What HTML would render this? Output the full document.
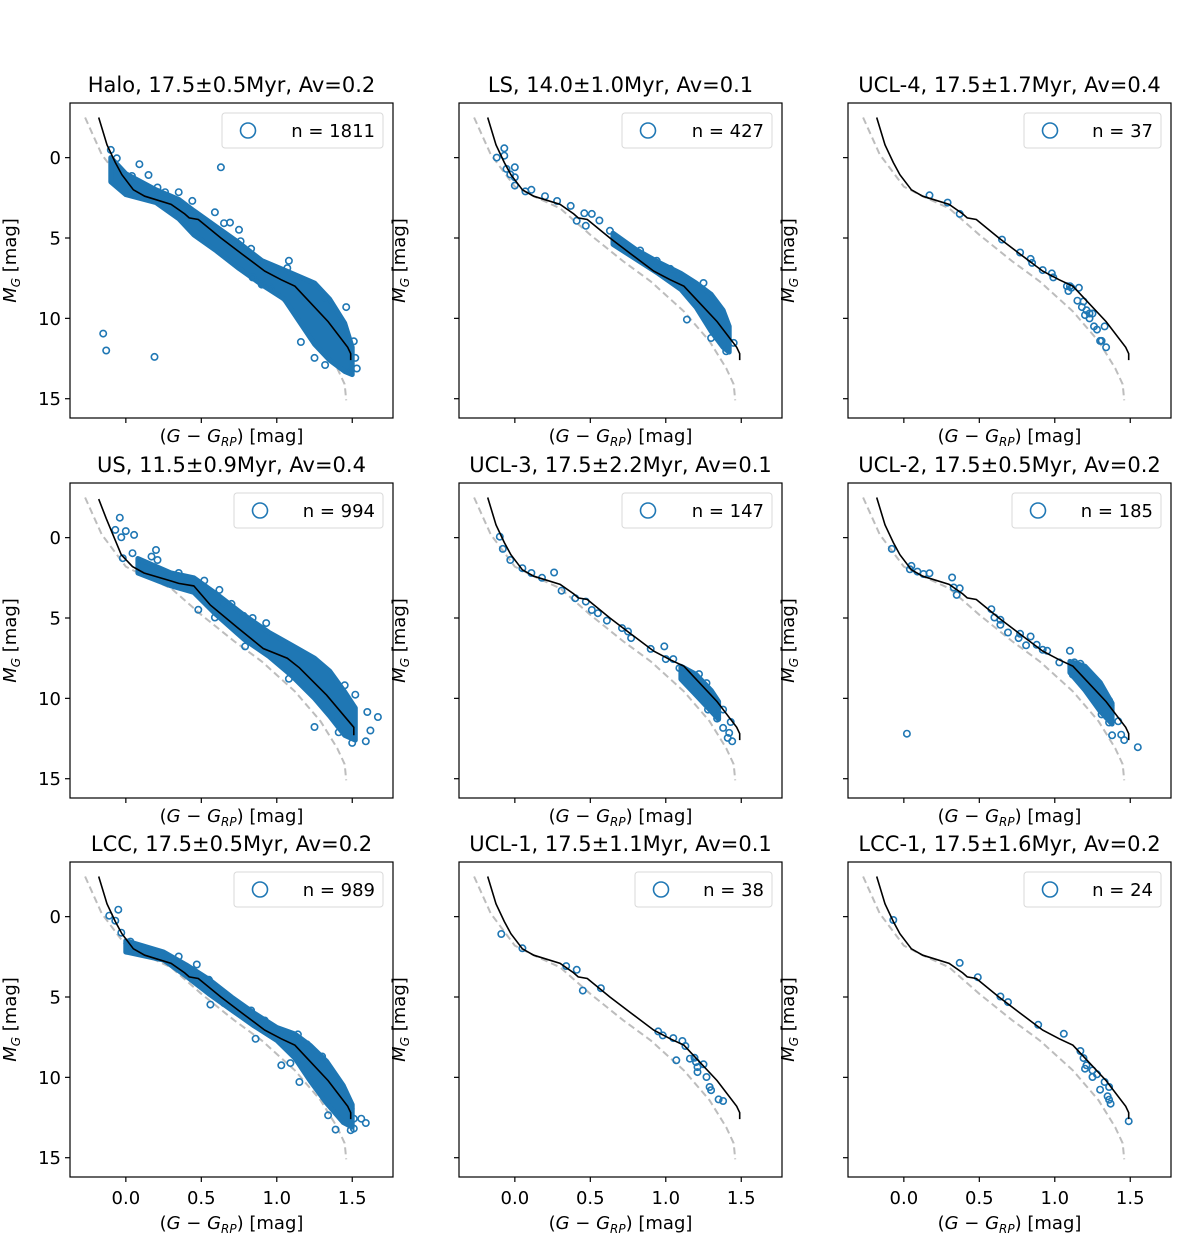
<!DOCTYPE html>
<html><head><meta charset="utf-8"><style>
body{margin:0;background:#fff}
svg{display:block;font-family:"DejaVu Sans","Liberation Sans",sans-serif}
</style></head><body>
<svg id="fig" width="1200" height="1239" viewBox="0 0 1200 1239" xmlns="http://www.w3.org/2000/svg"></svg>
<script>
// ---- data ----
const xTicks = [0, 0.5, 1.0, 1.5];
const xTickLabels = ["0.0", "0.5", "1.0", "1.5"];
const yTicks = [0, 5, 10, 15];
const yTickLabels = ["0", "5", "10", "15"];
const titles = ["Halo, 17.5\u00b10.5Myr, Av=0.2","LS, 14.0\u00b11.0Myr, Av=0.1","UCL-4, 17.5\u00b11.7Myr, Av=0.4",
 "US, 11.5\u00b10.9Myr, Av=0.4","UCL-3, 17.5\u00b12.2Myr, Av=0.1","UCL-2, 17.5\u00b10.5Myr, Av=0.2",
 "LCC, 17.5\u00b10.5Myr, Av=0.2","UCL-1, 17.5\u00b11.1Myr, Av=0.1","LCC-1, 17.5\u00b11.6Myr, Av=0.2"];
const counts = [1811, 427, 37, 994, 147, 185, 989, 38, 24];
const refX = [-0.27,-0.16,0.0,0.125,0.30,0.50,0.72,0.90,1.12,1.29,1.40,1.45,1.46];
const refY = [-2.5,-0.2,1.8,2.4,3.15,4.8,6.46,7.7,9.57,11.43,13.1,14.1,15.1];
const isoX = [-0.18,-0.125,-0.07,-0.026,0.05,0.125,0.30,0.39,0.42,0.48,0.63,0.77,0.92,1.03,1.12,1.21,1.34,1.47,1.49,1.49];
const isoY = [-2.5,-0.8,0.3,1.06,2.0,2.4,2.9,3.5,3.75,3.85,5.0,6.0,7.06,7.6,8.0,8.9,10.2,11.8,12.2,12.6];
const isoUSX = [-0.18,-0.13,-0.03,0.044,0.12,0.30,0.35,0.45,0.56,0.74,0.91,1.07,1.15,1.33,1.51,1.51];
const isoUSY = [-2.4,-1.2,1.07,1.8,2.2,2.7,2.85,3.0,4.2,5.6,6.9,7.5,8.1,9.8,11.8,12.3];
// dense-region bands: [colour, upper mag, lower mag]
const bandHalo = [[-0.1,0,1.5],[0.0,1.0,2.3],[0.2,2.0,2.8],[0.35,2.6,3.8],[0.45,3.3,4.8],[0.6,4.3,5.8],[0.75,5.3,6.9],[0.9,6.4,7.9],[1.05,7.0,8.8],[1.15,7.4,10.2],[1.25,7.8,11.6],[1.35,8.8,12.6],[1.45,10.3,13.3],[1.5,11.8,13.5]];
const bandLS = [[0.65,4.7,5.4],[0.8,5.7,6.3],[0.95,6.5,7.2],[1.1,7.2,8.2],[1.2,7.8,9.3],[1.3,8.5,10.8],[1.38,9.5,11.8],[1.42,10.5,12.1]];
const bandUS = [[0.08,1.3,2.2],[0.3,2.2,3.0],[0.45,2.5,3.4],[0.6,3.5,4.8],[0.78,4.8,6.3],[0.95,5.9,7.4],[1.1,6.7,8.6],[1.25,7.5,10.0],[1.35,8.3,11.1],[1.45,9.6,12.3],[1.52,10.6,12.6]];
const bandUCL3 = [[1.1,8.0,8.8],[1.2,8.5,9.8],[1.3,9.5,10.8],[1.35,10.2,11.3]];
const bandUCL2 = [[1.1,7.7,8.4],[1.2,8.0,9.5],[1.3,9.0,10.8],[1.38,10.3,11.6]];
const bandLCC = [[0.0,1.5,2.2],[0.25,2.2,2.7],[0.4,3.0,3.7],[0.55,3.9,4.8],[0.7,5.0,5.8],[0.85,6.0,6.8],[1.0,6.9,7.7],[1.12,7.3,8.8],[1.22,8.0,10.2],[1.33,9.0,11.6],[1.44,10.5,12.8],[1.5,11.7,13.1]];
const ptsHalo = [[-0.15,10.95],[-0.13,12.0],[0.19,12.4],[0.63,0.6],[-0.10,-0.48],[-0.06,0.04],[0.09,0.41],[0.15,1.08],[0.04,1.14],[0.21,1.86],[0.26,2.15],[0.35,2.15],[0.44,2.69],[0.59,3.4],[0.65,4.08],[0.69,4.04],[0.75,4.49],[0.76,5.2],[0.83,5.67],[0.84,7.45],[0.90,7.9],[1.08,6.42],[1.07,6.87],[0.96,8.1],[1.16,11.47],[1.32,8.7],[1.46,9.3],[1.51,11.43],[1.52,12.46],[1.53,13.12],[1.49,13.3],[1.32,12.9],[1.25,12.46]];
const ptsLS = [[-0.07,-0.58],[-0.07,-0.12],[-0.12,0],[-0.055,0.7],[0.0,0.6],[-0.03,1.04],[0.0,1.22],[0.0,1.74],[0.11,2.0],[0.07,2.1],[0.2,2.4],[0.28,2.7],[0.37,3.0],[0.41,3.93],[0.46,3.46],[0.51,3.5],[0.56,3.91],[0.47,4.24],[0.63,4.55],[0.71,5.26],[0.77,5.67],[0.83,5.78],[0.94,6.42],[1.03,6.92],[1.08,7.29],[1.14,10.08],[1.30,11.22],[1.40,12.05],[1.45,11.53],[1.25,7.8]];
const ptsUCL4 = [[0.17,2.34],[0.29,2.8],[0.37,3.5],[0.65,5.1],[0.77,5.9],[0.84,6.3],[0.85,6.55],[0.92,7.0],[0.98,7.2],[0.99,7.45],[1.08,8.0],[1.10,8.0],[1.11,8.1],[1.16,8.1],[1.09,8.3],[1.15,8.9],[1.19,8.95],[1.18,9.3],[1.21,9.5],[1.23,9.7],[1.20,9.8],[1.25,9.7],[1.23,10.0],[1.26,10.5],[1.28,10.7],[1.33,10.5],[1.30,11.4],[1.31,11.4],[1.34,11.8]];
const ptsUS = [[-0.04,-1.24],[-0.07,-0.48],[0.0,-0.41],[-0.03,-0.02],[0.055,-0.17],[0.044,0.97],[-0.02,1.28],[0.20,0.77],[0.17,1.18],[0.21,1.39],[0.35,2.2],[0.52,2.67],[0.62,3.25],[0.48,4.49],[0.59,4.97],[0.65,4.08],[0.70,4.12],[0.78,4.87],[0.84,5.0],[0.93,5.32],[0.79,6.77],[0.97,7.33],[1.08,8.78],[1.25,11.78],[1.45,9.19],[1.52,9.77],[1.60,10.85],[1.67,11.16],[1.62,12.0],[1.59,12.67],[1.50,12.77],[1.41,12.11]];
const ptsUCL3 = [[-0.10,-0.06],[-0.08,0.70],[-0.03,1.39],[0.05,1.9],[0.11,2.2],[0.18,2.5],[0.26,2.17],[0.31,3.3],[0.40,3.77],[0.47,3.98],[0.51,4.5],[0.55,4.7],[0.61,5.16],[0.71,5.63],[0.75,5.84],[0.77,6.25],[0.90,6.92],[0.99,6.77],[1.00,7.56],[1.05,7.56],[1.09,8.12],[1.14,8.43],[1.18,8.53],[1.22,8.49],[1.16,8.84],[1.21,9.25],[1.27,9.05],[1.24,9.77],[1.29,9.88],[1.33,10.35],[1.28,10.7],[1.38,10.7],[1.34,11.26],[1.43,11.47],[1.38,11.84],[1.42,12.15],[1.44,12.67],[1.41,12.46]];
const ptsUCL2 = [[-0.08,0.70],[0.04,1.97],[0.05,1.76],[0.09,2.11],[0.13,2.26],[0.17,2.22],[0.32,2.48],[0.33,3.1],[0.37,3.15],[0.35,3.56],[0.02,12.2],[0.58,4.45],[0.60,4.97],[0.64,5.11],[0.64,5.42],[0.69,5.9],[0.77,5.98],[0.76,6.25],[0.81,6.7],[0.84,6.15],[0.88,6.67],[0.92,6.98],[0.95,7.04],[1.03,7.76],[1.10,7.04],[1.13,7.76],[1.17,7.85],[1.12,8.53],[1.18,8.74],[1.27,9.19],[1.30,9.36],[1.25,9.77],[1.36,10.14],[1.37,10.46],[1.31,11.0],[1.36,11.5],[1.42,11.43],[1.38,12.3],[1.44,12.26],[1.46,12.6],[1.55,13.04]];
const ptsLCC = [[-0.05,-0.43],[-0.11,-0.06],[-0.07,0.25],[-0.03,1.0],[0.03,1.55],[0.09,1.9],[0.15,2.17],[0.26,2.42],[0.35,2.48],[0.47,2.98],[0.55,3.93],[0.56,5.47],[0.65,5.38],[0.76,5.63],[0.83,5.84],[0.92,6.46],[0.86,7.6],[1.03,9.25],[1.09,9.11],[1.15,10.29],[1.14,7.33],[1.20,7.95],[1.30,8.7],[1.34,12.36],[1.39,13.25],[1.49,11.95],[1.51,12.57],[1.56,12.57],[1.59,12.84],[1.49,13.29],[1.51,13.19]];
const ptsUCL1 = [[-0.09,1.08],[0.05,1.97],[0.34,3.08],[0.41,3.31],[0.45,4.60],[0.57,4.45],[0.95,7.14],[0.98,7.39],[1.05,7.56],[1.11,7.74],[1.13,8.05],[1.07,8.94],[1.16,8.84],[1.19,8.78],[1.20,9.05],[1.21,9.36],[1.21,9.67],[1.25,9.19],[1.27,9.98],[1.29,10.6],[1.30,10.8],[1.35,11.37],[1.38,11.47]];
const ptsLCC1 = [[-0.07,0.21],[0.37,2.88],[0.49,3.77],[0.64,4.97],[0.69,5.32],[0.89,6.73],[1.06,7.29],[1.17,8.36],[1.19,8.80],[1.21,9.25],[1.20,9.46],[1.25,9.57],[1.28,9.81],[1.25,9.98],[1.33,10.29],[1.36,10.6],[1.30,10.77],[1.35,11.18],[1.36,11.39],[1.37,11.64],[1.49,12.73]];

const panelPts = [ptsHalo, ptsLS, ptsUCL4, ptsUS, ptsUCL3, ptsUCL2, ptsLCC, ptsUCL1, ptsLCC1];
const panelBands = [bandHalo, bandLS, null, bandUS, bandUCL3, bandUCL2, bandLCC, null, null];

// ---- layout ----
const colLeft = [70, 459, 848], rowTop = [103, 483, 862];
const AW = 323, AH = 315, XMIN = -0.37, XMAX = 1.77, YMIN = -3.4, YMAX = 16.2;
const legW = [161, 150, 137, 149, 150, 149, 149, 137, 137];
const NS = "http://www.w3.org/2000/svg";
const svg = document.getElementById('fig');
function mk(tag, attrs, parent) { const e = document.createElementNS(NS, tag); for (const k in attrs) e.setAttribute(k, attrs[k]); (parent || svg).appendChild(e); return e; }
const BLUE = "#1f77b4";

for (let i = 0; i < 9; i++) {
  const L = colLeft[i % 3], T = rowTop[Math.floor(i / 3)];
  const bottomRow = i >= 6, firstCol = i % 3 === 0;
  const sx = x => L + (x - XMIN) / (XMAX - XMIN) * AW;
  const sy = y => T + (y - YMIN) / (YMAX - YMIN) * AH;
  const g = mk('g', {});
  
  
  const clipId = 'clip' + i;
  const cp = mk('clipPath', { id: clipId }, g);
  mk('rect', { x: L, y: T, width: AW, height: AH }, cp);
  const plot = mk('g', { 'clip-path': 'url(#' + clipId + ')' }, g);

  const rp = mk('path', { d: refX.map((x, k) => (k ? 'L' : 'M') + sx(x).toFixed(1) + ',' + sy(refY[k]).toFixed(1)).join(''), fill: 'none', stroke: '#bdbdbd', 'stroke-width': 2, 'stroke-dasharray': '7,4' }, plot);
  
  

  const band = panelBands[i];
  if (band) {
    const top = band.map(b => sx(b[0]).toFixed(1) + ',' + sy(b[1]).toFixed(1));
    const bot = band.slice().reverse().map(b => sx(b[0]).toFixed(1) + ',' + sy(b[2]).toFixed(1));
    const bp = mk('polygon', { points: top.concat(bot).join(' '), fill: BLUE, stroke: BLUE, 'stroke-width': 5, 'stroke-linejoin': 'round' }, plot);
    
    
  }
  panelPts[i].forEach(p => {
    const c = mk('circle', { cx: sx(p[0]).toFixed(1), cy: sy(p[1]).toFixed(1), r: 3.2, fill: 'none', stroke: BLUE, 'stroke-width': 1.6 }, plot);
    
    
  });
  const ix = i === 3 ? isoUSX : isoX, iy = i === 3 ? isoUSY : isoY;
  const ip = mk('path', { d: ix.map((x, k) => (k ? 'L' : 'M') + sx(x).toFixed(1) + ',' + sy(iy[k]).toFixed(1)).join(''), fill: 'none', stroke: '#000', 'stroke-width': 1.6 }, plot);
  
  

  const fr = mk('rect', { x: L, y: T, width: AW, height: AH, fill: 'none', stroke: '#000', 'stroke-width': 1.2 }, g);
  
  

  xTicks.forEach((v, k) => {
    const X = sx(v);
    const t = mk('line', { x1: X, x2: X, y1: T + AH, y2: T + AH + 5, stroke: '#000', 'stroke-width': 1.2 }, g);
    
    
    if (bottomRow) {
      const tl = mk('text', { x: X, y: T + AH + 27, 'text-anchor': 'middle', 'font-size': 18 }, g);
      tl.textContent = xTickLabels[k];
      
      
    }
  });
  yTicks.forEach((v, k) => {
    const Y = sy(v);
    const t = mk('line', { x1: L - 5, x2: L, y1: Y, y2: Y, stroke: '#000', 'stroke-width': 1.2 }, g);
    
    
    if (firstCol) {
      const tl = mk('text', { x: L - 9, y: Y + 6.5, 'text-anchor': 'end', 'font-size': 18 }, g);
      tl.textContent = yTickLabels[k];
      
      
    }
  });
  const xl = mk('text', { x: L + AW / 2, y: bottomRow ? T + AH + 52 : T + AH + 24, 'text-anchor': 'middle', 'font-size': 18 }, g);
  xl.innerHTML = '(<tspan font-style="italic">G</tspan> \u2212 <tspan font-style="italic">G</tspan><tspan font-style="italic" font-size="12" dy="4">RP</tspan><tspan dy="-4">) [mag]</tspan>';
  
  
  const ylx = L - 54, yly = T + AH / 2;
  const yl = mk('text', { x: ylx, y: yly, 'text-anchor': 'middle', 'font-size': 18, transform: 'rotate(-90 ' + ylx + ' ' + yly + ')' }, g);
  yl.innerHTML = '<tspan font-style="italic">M</tspan><tspan font-style="italic" font-size="12" dy="4">G</tspan><tspan dy="-4"> [mag]</tspan>';
  
  
  const tt = mk('text', { x: L + AW / 2, y: T - 11, 'text-anchor': 'middle', 'font-size': 21 }, g);
  tt.textContent = titles[i];
  
  
  const lr = L + AW - 10, lw = legW[i], ll = lr - lw;
  const lg = mk('g', {}, g);
  
  
  mk('rect', { x: ll, y: T + 10, width: lw, height: 35, rx: 3, fill: '#fff', 'fill-opacity': 0.85, stroke: '#d9d9d9', 'stroke-width': 1 }, lg);
  const lc = mk('circle', { cx: ll + 26, cy: T + 27.5, r: 7.5, fill: 'none', stroke: BLUE, 'stroke-width': 1.6 }, lg);
  
  
  const lt = mk('text', { x: lr - 8, y: T + 34, 'text-anchor': 'end', 'font-size': 18 }, lg);
  lt.textContent = 'n = ' + counts[i];
  
  
}
</script>
</body></html>
